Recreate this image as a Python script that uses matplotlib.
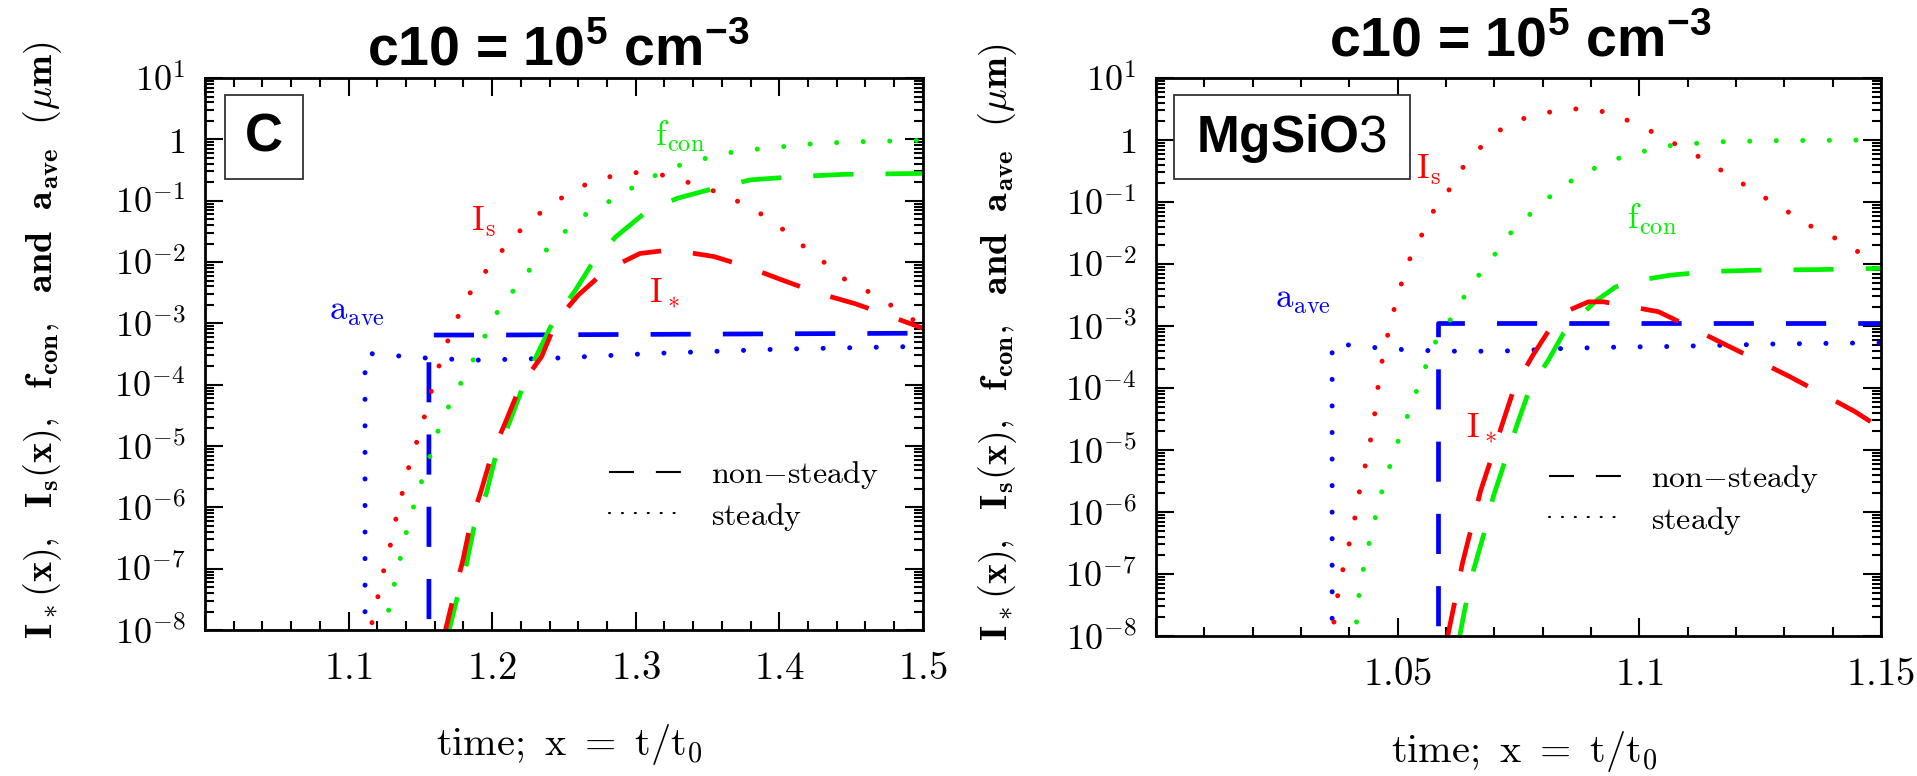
import numpy as np
import matplotlib
matplotlib.use("Agg")
import matplotlib.pyplot as plt
from matplotlib.lines import Line2D
from matplotlib.patches import Rectangle
from matplotlib.ticker import FuncFormatter, LogLocator, MultipleLocator, NullFormatter

plt.rcParams['mathtext.fontset'] = 'cm'
plt.rcParams['mathtext.rm'] = 'Liberation Sans'
plt.rcParams['mathtext.bf'] = 'Liberation Sans:bold'
plt.rcParams['font.family'] = ['Liberation Sans', 'DejaVu Sans']

# ---- panel C (values of y given as log10) ----
c_is_x = [1.112, 1.1196, 1.123, 1.128, 1.1316, 1.136, 1.140, 1.1453, 1.151, 1.1555, 1.1615,
          1.168, 1.176, 1.187, 1.198, 1.209, 1.221, 1.2345, 1.248, 1.2645, 1.2817, 1.299,
          1.316, 1.331, 1.35, 1.367, 1.385, 1.400, 1.4146, 1.4296, 1.4425, 1.4675, 1.4875, 1.5]
c_is = [-8.3, -7.56, -7.15, -6.75, -6.32, -5.91, -5.50, -5.09, -4.69, -4.28, -3.80,
        -3.35, -2.90, -2.40, -2.08, -1.75, -1.45, -1.18, -0.96, -0.745, -0.61, -0.54,
        -0.565, -0.66, -0.80, -0.96, -1.18, -1.42, -1.70, -1.97, -2.24, -2.55, -2.85, -3.05]

c_istar_x = [1.1655, 1.1737, 1.1797, 1.185, 1.1925, 1.200, 1.209, 1.2195, 1.2345, 1.245, 1.260,
             1.2795, 1.303, 1.3246, 1.3545, 1.378, 1.4017, 1.4275, 1.453, 1.4746, 1.5]
c_istar = [-8.2, -7.40, -6.86, -6.26, -5.72, -5.12, -4.63, -4.03, -3.54, -2.95, -2.54,
           -2.13, -1.86, -1.80, -1.91, -2.08, -2.29, -2.51, -2.68, -2.86, -3.08]

c_fcon_s_x = [1.124, 1.130, 1.1338, 1.138, 1.142, 1.1475, 1.153, 1.1586, 1.164, 1.172, 1.1874,
              1.196, 1.2045, 1.215, 1.226, 1.2367, 1.2495, 1.2624, 1.2795, 1.2946, 1.3095,
              1.3268, 1.344, 1.361, 1.3826, 1.4017, 1.421, 1.438, 1.455, 1.4875, 1.5]
c_fcon_s = [-8.1, -7.46, -7.05, -6.64, -6.23, -5.83, -5.42, -5.04, -4.63, -4.25, -3.57,
            -3.16, -2.78, -2.46, -2.13, -1.83, -1.53, -1.26, -1.04, -0.83, -0.635,
            -0.445, -0.34, -0.23, -0.163, -0.12, -0.076, -0.054, -0.038, -0.022, -0.015]

c_fcon_ns_x = [1.169, 1.1753, 1.182, 1.1874, 1.196, 1.2024, 1.211, 1.221, 1.230, 1.243, 1.258,
               1.269, 1.286, 1.3074, 1.329, 1.3545, 1.380, 1.410, 1.4447, 1.5]
c_fcon_ns = [-8.1, -7.51, -6.94, -6.32, -5.77, -5.17, -4.68, -4.06, -3.57, -2.95, -2.46,
             -2.05, -1.59, -1.18, -0.96, -0.80, -0.66, -0.61, -0.57, -0.555]

c_aave_s_x = [1.1115, 1.1115, 1.114, 1.150, 1.187, 1.241, 1.312, 1.400, 1.4875, 1.5]
c_aave_s = [-9.0, -3.49, -3.49, -3.56, -3.60, -3.57, -3.49, -3.42, -3.38, -3.37]

c_aave_ns_x = [1.156, 1.156, 1.20, 1.30, 1.40, 1.5]
c_aave_ns = [-9.0, -3.19, -3.19, -3.18, -3.17, -3.16]

# ---- panel MgSiO3 ----
m_is_x = [1.0362, 1.0371, 1.0381, 1.0394, 1.0406, 1.0416, 1.0425, 1.0438, 1.0447, 1.0455,
          1.0461, 1.047, 1.0482, 1.0495, 1.051, 1.0527, 1.0552, 1.0571, 1.0603, 1.0628,
          1.0659, 1.0698, 1.0736, 1.0787, 1.0831, 1.0885, 1.0938, 1.099, 1.104, 1.1085,
          1.1135, 1.118, 1.1223, 1.1268, 1.1312, 1.1357, 1.1407, 1.1452, 1.15]
m_is = [-8.2, -7.58, -7.12, -6.69, -6.32, -5.91, -5.48, -5.11, -4.70, -4.30,
        -3.87, -3.47, -3.06, -2.66, -2.26, -1.88, -1.50, -1.18, -0.85, -0.51,
        -0.215, 0.08, 0.295, 0.40, 0.48, 0.51, 0.44, 0.27, 0.08, -0.11,
        -0.32, -0.54, -0.75, -0.97, -1.18, -1.40, -1.59, -1.80, -1.99]

m_fcon_s_x = [1.041, 1.0421, 1.0432, 1.0444, 1.0457, 1.0469, 1.0486, 1.0503, 1.0521, 1.054,
              1.0575, 1.0609, 1.064, 1.0666, 1.0698, 1.073, 1.0768, 1.0806, 1.085, 1.0901,
              1.0945, 1.0996, 1.104, 1.1097, 1.1174, 1.128, 1.15]
m_fcon_s = [-8.2, -7.26, -6.80, -6.40, -5.99, -5.62, -5.21, -4.81, -4.44, -4.03,
            -3.30, -2.90, -2.50, -2.20, -1.88, -1.53, -1.24, -0.97, -0.70, -0.48,
            -0.32, -0.215, -0.11, -0.065, -0.027, -0.011, 0.0]

m_istar_x = [1.0601, 1.0619, 1.0634, 1.0653, 1.0672, 1.0695, 1.0717, 1.0742, 1.078, 1.0818,
             1.0856, 1.0895, 1.0926, 1.104, 1.1103, 1.1173, 1.1243, 1.1312, 1.1382, 1.1446, 1.15]
m_istar = [-8.1, -7.42, -6.83, -6.24, -5.65, -5.11, -4.57, -3.98, -3.47, -3.01,
           -2.74, -2.61, -2.61, -2.77, -3.01, -3.28, -3.55, -3.82, -4.11, -4.38, -4.65]

m_fcon_ns_x = [1.0626, 1.064, 1.0657, 1.0679, 1.0698, 1.0723, 1.0748, 1.0774, 1.0812, 1.0843,
               1.0875, 1.0913, 1.0951, 1.1002, 1.1065, 1.1148, 1.1243, 1.137, 1.15]
m_fcon_ns = [-8.1, -7.53, -6.94, -6.34, -5.75, -5.16, -4.57, -4.0, -3.55, -3.12,
             -2.85, -2.58, -2.37, -2.26, -2.18, -2.12, -2.10, -2.09, -2.07]

m_aave_s_x = [1.03645, 1.03645, 1.0421, 1.0528, 1.0636, 1.0744, 1.085, 1.0958, 1.1066,
              1.1174, 1.128, 1.139, 1.15]
m_aave_s = [-9.0, -3.27, -3.33, -3.39, -3.41, -3.40, -3.36, -3.34, -3.33, -3.31, -3.29, -3.28, -3.27]

m_aave_ns_x = [1.0584, 1.0584, 1.0647, 1.08, 1.10, 1.12, 1.15]
m_aave_ns = [-9.0, -2.95, -2.95, -2.95, -2.95, -2.95, -2.95]

RED, GREEN, BLUE = '#ff0000', '#00f000', '#0000ff'
DOT = (0, (0.01, 5.3))
DASH = (0, (8.5, 6.8))


def dotted(ax, x, logy, color):
    ax.plot(x, 10.0 ** np.array(logy), color=color, lw=3.6, linestyle=DOT,
            dash_capstyle='round')


def dashed(ax, x, logy, color):
    ax.plot(x, 10.0 ** np.array(logy), color=color, lw=3.4, linestyle=DASH,
            dash_capstyle='butt')


def setup_axes(ax, xmajor, xminor, xmax):
    ax.set_yscale('log')
    ax.set_ylim(1e-8, 10)
    ax.set_xlim(1.0, xmax)
    ax.xaxis.set_major_locator(MultipleLocator(xmajor))
    ax.xaxis.set_minor_locator(MultipleLocator(xminor))
    ax.xaxis.set_major_formatter(FuncFormatter(
        lambda v, p: '' if abs(v - 1.0) < 1e-9 else r'$%g$' % round(v, 3)))
    ax.yaxis.set_major_locator(LogLocator(base=10, numticks=20))
    ax.yaxis.set_minor_locator(LogLocator(base=10, subs=np.arange(2, 10), numticks=20))
    ax.yaxis.set_minor_formatter(NullFormatter())

    def yfmt(v, p):
        e = int(round(np.log10(v)))
        return r'$1$' if e == 0 else r'$10^{%d}$' % e
    ax.yaxis.set_major_formatter(FuncFormatter(yfmt))
    ax.tick_params(which='both', direction='in', top=True, right=True, width=1.5, colors='black')
    ax.tick_params(which='major', length=13)
    ax.tick_params(which='minor', length=6.5)
    ax.tick_params(axis='x', which='major', labelsize=28, pad=15)
    ax.tick_params(axis='y', which='major', labelsize=26, pad=14)
    for s in ax.spines.values():
        s.set_linewidth(2.0)


def legend(ax, xa, ya):
    h = [Line2D([], [], color='black', lw=1.5, linestyle=(0, (12, 10.5))),
         Line2D([], [], color='black', lw=1.5, linestyle=(0, (0.5, 5.7)), dash_capstyle='round')]
    ax.legend(h, [r'$\mathrm{non{-}steady}$', r'$\mathrm{steady}$'], loc='upper left',
              bbox_to_anchor=(xa, ya), frameon=False, fontsize=23, handlelength=2.3,
              handletextpad=0.9, labelspacing=0.3, borderpad=0, borderaxespad=0)


fig = plt.figure(figsize=(19.17, 7.76), dpi=100)
ax1 = fig.add_axes([0.1069, 0.1881, 0.3745, 0.7113])
ax2 = fig.add_axes([0.6030, 0.1804, 0.3782, 0.7191])

# panel C
setup_axes(ax1, 0.1, 0.02, 1.5)
dotted(ax1, c_aave_s_x, c_aave_s, BLUE)
dashed(ax1, c_aave_ns_x, c_aave_ns, BLUE)
dotted(ax1, c_is_x, c_is, RED)
dotted(ax1, c_fcon_s_x, c_fcon_s, GREEN)
dashed(ax1, c_fcon_ns_x, c_fcon_ns, GREEN)
dashed(ax1, c_istar_x, c_istar, RED)
ax1.text(1.194, 10 ** -1.35, r'$\mathrm{I_s}$', color=RED, fontsize=25, ha='center', va='center')
ax1.text(1.331, 10 ** 0.04, r'$\mathrm{f_{con}}$', color=GREEN, fontsize=25, ha='center', va='center')
ax1.text(1.320, 10 ** -2.51, r'$\mathrm{I_*}$', color=RED, fontsize=25, ha='center', va='center')
ax1.text(1.106, 10 ** -2.81, r'$\mathrm{a_{ave}}$', color=BLUE, fontsize=25, ha='center', va='center')
legend(ax1, 0.563, 0.31)
ax1.add_patch(Rectangle((0.028, 0.817), 0.1085, 0.152, transform=ax1.transAxes,
                        facecolor='white', edgecolor='#333333', lw=1.3, zorder=5))
ax1.text(0.082, 0.893, 'C', transform=ax1.transAxes, fontsize=38, fontweight='bold',
         ha='center', va='center', zorder=6)

# panel MgSiO3
setup_axes(ax2, 0.05, 0.01, 1.15)
dotted(ax2, m_aave_s_x, m_aave_s, BLUE)
dashed(ax2, m_aave_ns_x, m_aave_ns, BLUE)
dotted(ax2, m_is_x, m_is, RED)
dotted(ax2, m_fcon_s_x, m_fcon_s, GREEN)
dashed(ax2, m_fcon_ns_x, m_fcon_ns, GREEN)
dashed(ax2, m_istar_x, m_istar, RED)
ax2.text(1.0564, 10 ** -0.48, r'$\mathrm{I_s}$', color=RED, fontsize=25, ha='center', va='center')
ax2.text(1.1027, 10 ** -1.29, r'$\mathrm{f_{con}}$', color=GREEN, fontsize=25, ha='center', va='center')
ax2.text(1.0673, 10 ** -4.65, r'$\mathrm{I_*}$', color=RED, fontsize=25, ha='center', va='center')
ax2.text(1.0305, 10 ** -2.58, r'$\mathrm{a_{ave}}$', color=BLUE, fontsize=25, ha='center', va='center')
legend(ax2, 0.542, 0.31)
ax2.add_patch(Rectangle((0.0248, 0.819), 0.3255, 0.1505, transform=ax2.transAxes,
                        facecolor='white', edgecolor='#333333', lw=1.3, zorder=5))
ax2.text(0.1876, 0.892, r'$\mathbf{MgSiO}\mathrm{3}$', transform=ax2.transAxes, fontsize=37,
         ha='center', va='center', math_fontfamily='custom', zorder=6)

# titles and axis labels
title = r'c10 = 10$^{\mathbf{5}}$ cm$^{\mathbf{-3}}$'
fig.text(0.291, 0.915, title, fontsize=40, fontweight='bold', ha='center', va='baseline',
         math_fontfamily='custom')
fig.text(0.793, 0.927, title, fontsize=40, fontweight='bold', ha='center', va='baseline',
         math_fontfamily='custom')

ylab = r'$\mathbf{I_*(x),\ \ I_s(x),\ \ f_{con},\ \ and\ \ a_{ave}\ \ (\mu m)}$'
fig.text(0.0224, 0.562, ylab, rotation=90, fontsize=27.5, ha='center', va='center')
fig.text(0.5206, 0.559, ylab, rotation=90, fontsize=27.5, ha='center', va='center')

xlab = r'$\mathrm{time;\ x\ =\ t/t_0}$'
fig.text(0.297, 0.027, xlab, fontsize=29, ha='center', va='baseline')
fig.text(0.795, 0.018, xlab, fontsize=29, ha='center', va='baseline')

fig.savefig('out.png', dpi=100)
